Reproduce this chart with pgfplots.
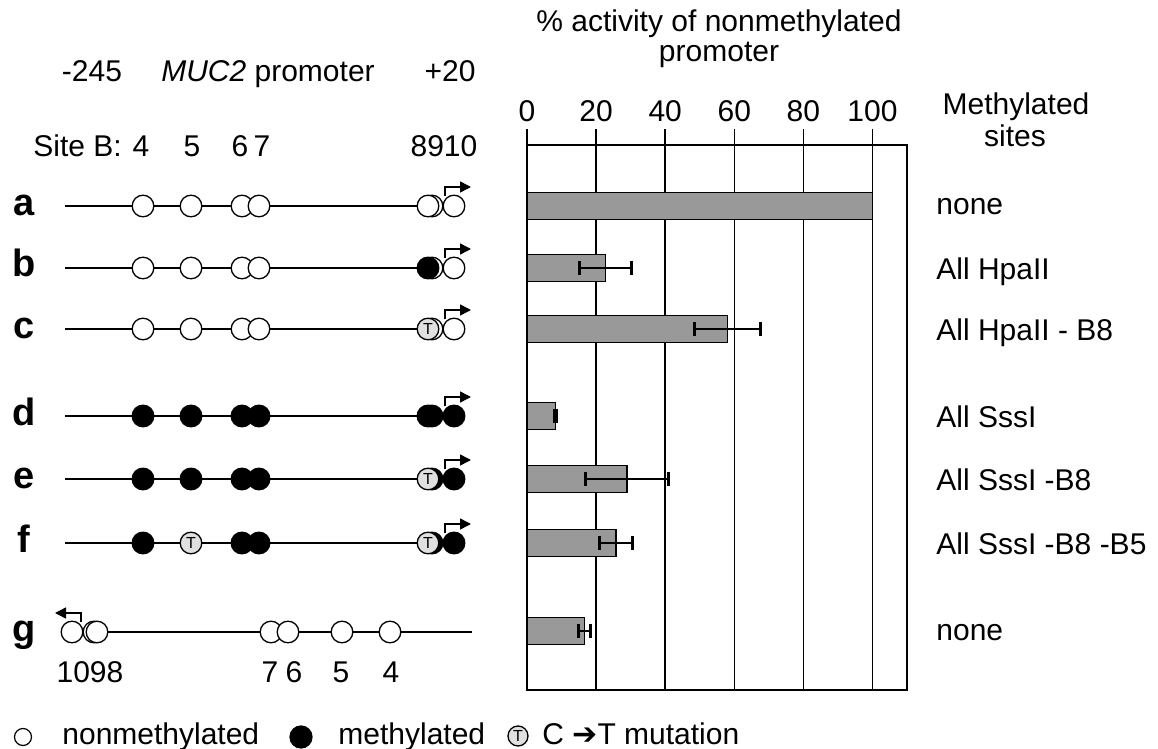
\documentclass[border=0pt]{standalone}
\usepackage{pgfplots}
\pgfplotsset{compat=1.18}
\usepackage{fontspec}
\setmainfont{Liberation Sans}
\newfontfamily\dejavu{DejaVu Sans}
\usetikzlibrary{arrows.meta}
\newcommand{\fs}{\fontsize{15}{18}\selectfont}
\newcommand{\fb}{\fontsize{19}{22}\selectfont\bfseries}
\pgfplotsset{
 op/.style={only marks, mark=*, mark size=5.4pt, mark options={fill=white, draw=black, line width=0.65pt}},
 fi/.style={only marks, mark=*, mark size=5.4pt, mark options={fill=black, draw=black, line width=0.65pt}},
 mu/.style={only marks, mark=*, mark size=5.4pt, mark options={fill=black!12, draw=black, line width=0.65pt},
   nodes near coords={T}, every node near coord/.append style={anchor=center, inner sep=0pt, font=\fontsize{8}{9}\selectfont}},
 ln/.style={black, line width=0.75pt, mark=none},
 ar/.style={black, line width=0.75pt, mark=none, -{Triangle[length=5.5pt, width=5.5pt]}},
}
\tikzset{tx/.style={inner sep=0pt, font=\fs}}
\begin{document}
\begin{tikzpicture}
\useasboundingbox (0,0) rectangle (579pt,374.5pt);
% ---------- bar chart ----------
\begin{axis}[
  at={(263.5pt,29.5pt)}, anchor=south west,
  scale only axis, width=190pt, height=272.5pt,
  xmin=0, xmax=110, ymin=59, ymax=604,
  xbar, bar width=13.5pt, bar shift=0pt,
  xtick={0,20,40,60,80,100}, ytick=\empty,
  xtick pos=right, xticklabel pos=right,
  tick align=outside, major tick length=8pt,
  xmajorgrids, grid style={black, line width=0.7pt},
  axis line style={line width=0.9pt},
  tick style={black, line width=0.7pt},
  /pgf/number format/assume math mode=true,
  ticklabel style={font=\fs},
]
\addplot[fill=black!40, draw=black, line width=0.8pt] coordinates {(100,543)};
\addplot[fill=black!40, draw=black, line width=0.8pt,
  error bars/.cd, x dir=both, x explicit,
  error bar style={line width=1pt},
  error mark options={rotate=90, line width=1.4pt, mark size=3.5pt}] table[x=x, y=y, x error=e] {
x y e
22.7 481 7.6
58 420 9.5
8.2 333 0.4
29 270 12
25.7 206 4.8
16.7 118 1.7
};
\end{axis}
% ---------- diagram overlay ----------
\begin{axis}[
  at={(0pt,0pt)}, anchor=south west,
  scale only axis, width=579pt, height=374.5pt,
  xmin=0, xmax=1158, ymin=0, ymax=749, y dir=reverse,
  hide axis, clip=false]
% lines
\addplot[ln] coordinates {(65,206) (440,206)};
\addplot[ln] coordinates {(65,268) (440,268)};
\addplot[ln] coordinates {(65,329) (440,329)};
\addplot[ln] coordinates {(65,416) (440,416)};
\addplot[ln] coordinates {(65,479) (440,479)};
\addplot[ln] coordinates {(65,543) (440,543)};
\addplot[ln] coordinates {(72,632) (472,632)};
% site 9 (behind)
\addplot[op] coordinates {(432,206) (432,268) (432,329) (94,632)};
\addplot[fi] coordinates {(432,416) (432,479) (432,543)};
% sites 4,5,6 and row g sites
\addplot[op] coordinates {(143,206) (191,206) (242,206)
  (143,268) (191,268) (242,268)
  (143,329) (191,329) (242,329)
  (72,632) (271,632) (288,632) (342,632) (390,632)};
\addplot[fi] coordinates {(143,416) (191,416) (242,416)
  (143,479) (191,479) (242,479)
  (143,543) (242,543)};
\addplot[mu] coordinates {(191,543)};
% site 7
\addplot[op] coordinates {(259,206) (259,268) (259,329)};
\addplot[fi] coordinates {(259,416) (259,479) (259,543)};
% site 8
\addplot[op] coordinates {(428,206) (97,632)};
\addplot[fi] coordinates {(428,268) (428,416)};
\addplot[mu] coordinates {(428,329) (428,479) (428,543)};
% site 10
\addplot[op] coordinates {(454,206) (454,268) (454,329)};
\addplot[fi] coordinates {(454,416) (454,479) (454,543)};
% transcription start arrows
\addplot[ar] coordinates {(445,196) (445,187) (471,187)};
\addplot[ar] coordinates {(445,258) (445,249) (471,249)};
\addplot[ar] coordinates {(445,319) (445,310) (471,310)};
\addplot[ar] coordinates {(445,406) (445,397) (471,397)};
\addplot[ar] coordinates {(445,469) (445,460) (471,460)};
\addplot[ar] coordinates {(445,533) (445,524) (471,524)};
\addplot[ar] coordinates {(81,622) (81,613) (55,613)};
% legend symbols
\addplot[only marks, mark=*, mark size=4.25pt, mark options={fill=white, draw=black, line width=0.6pt}] coordinates {(23,737)};
\addplot[only marks, mark=*, mark size=5.5pt, mark options={fill=black, draw=black, line width=0.6pt}] coordinates {(301,737)};
\addplot[mu, mark size=5pt] coordinates {(518,736)};

% header texts
\node[tx, anchor=base] at (axis cs:92,82) {-245};
\node[tx, anchor=base] at (axis cs:268,82) {\textit{MUC2} promoter};
\node[tx, anchor=base] at (axis cs:450,82) {+20};
\node[tx, anchor=base west] at (axis cs:33,157) {Site B:};
\node[tx, anchor=base] at (axis cs:141,157) {4};
\node[tx, anchor=base] at (axis cs:192,157) {5};
\node[tx, anchor=base] at (axis cs:240,157) {6};
\node[tx, anchor=base] at (axis cs:262,157) {7};
\node[tx, anchor=base] at (axis cs:444,157) {8910};
% row letters
\node[inner sep=0pt, font=\fb, anchor=base] at (axis cs:24,215) {a};
\node[inner sep=0pt, font=\fb, anchor=base] at (axis cs:24,277) {b};
\node[inner sep=0pt, font=\fb, anchor=base] at (axis cs:24,338) {c};
\node[inner sep=0pt, font=\fb, anchor=base] at (axis cs:24,425) {d};
\node[inner sep=0pt, font=\fb, anchor=base] at (axis cs:24,488) {e};
\node[inner sep=0pt, font=\fb, anchor=base] at (axis cs:24,552) {f};
\node[inner sep=0pt, font=\fb, anchor=base] at (axis cs:24,641) {g};
% row g digits
\node[tx, anchor=base] at (axis cs:90,682) {1098};
\node[tx, anchor=base] at (axis cs:270,682) {7};
\node[tx, anchor=base] at (axis cs:294,682) {6};
\node[tx, anchor=base] at (axis cs:341,682) {5};
\node[tx, anchor=base] at (axis cs:391,682) {4};
% bar chart title and right header
\node[tx, anchor=base] at (axis cs:719,32) {\% activity of nonmethylated};
\node[tx, anchor=base] at (axis cs:719,62) {promoter};
\node[tx, anchor=base] at (axis cs:1016,115) {Methylated};
\node[tx, anchor=base] at (axis cs:1015,147) {sites};
% right labels
\node[tx, anchor=base west] at (axis cs:936,214) {none};
\node[tx, anchor=base west] at (axis cs:936,279) {All HpaII};
\node[tx, anchor=base west] at (axis cs:936,340) {All HpaII - B8};
\node[tx, anchor=base west] at (axis cs:936,427) {All SssI};
\node[tx, anchor=base west] at (axis cs:936,490) {All SssI -B8};
\node[tx, anchor=base west] at (axis cs:936,554) {All SssI -B8 -B5};
\node[tx, anchor=base west] at (axis cs:936,640) {none};
% legend texts
\node[tx, anchor=base west] at (axis cs:62,744) {nonmethylated};
\node[tx, anchor=base west] at (axis cs:338,744) {methylated};
\node[tx, anchor=base west] at (axis cs:542,744) {C {\dejavu ➔}T mutation};
\end{axis}
\end{tikzpicture}
\end{document}
